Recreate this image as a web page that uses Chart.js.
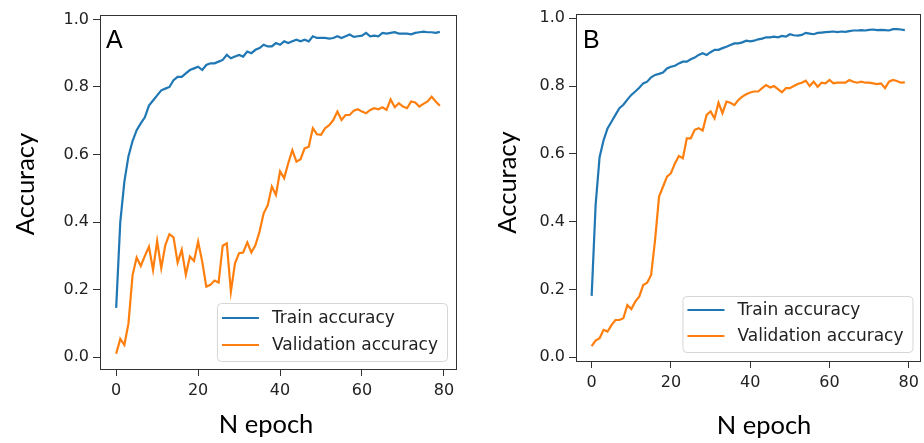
<!DOCTYPE html>
<html>
<head>
<meta charset="utf-8">
<script src="https://cdn.jsdelivr.net/npm/chart.js@4.4.1/dist/chart.umd.min.js"></script>
<style>
  html, body { margin: 0; padding: 0; background: #fff; }
  #wrap { position: relative; width: 924px; height: 443px; overflow: hidden; }
  canvas { position: absolute; top: 0; }
</style>
</head>
<body>
<div id="wrap">
  <canvas id="chartA" width="470" height="443" style="left:0;width:470px;height:443px"></canvas>
  <canvas id="chartB" width="454" height="443" style="left:470px;width:454px;height:443px"></canvas>
</div>
<script>
// epochs 0..79
const epochs = Array.from({ length: 80 }, (_, i) => i);
const xTicks = [0, 20, 40, 60, 80];
const yTicks = [0, 0.2, 0.4, 0.6, 0.8, 1.0];
const seriesNames = ['Train accuracy', 'Validation accuracy'];

const trainA = [
  0.146, 0.40, 0.52, 0.595, 0.64, 0.672, 0.692, 0.71, 0.745, 0.76,
  0.775, 0.79, 0.795, 0.80, 0.82, 0.83, 0.83, 0.84, 0.85, 0.855,
  0.86, 0.85, 0.865, 0.87, 0.87, 0.875, 0.88, 0.895, 0.885, 0.89,
  0.895, 0.89, 0.905, 0.90, 0.91, 0.915, 0.925, 0.92, 0.92, 0.93,
  0.925, 0.935, 0.93, 0.935, 0.94, 0.935, 0.94, 0.935, 0.95, 0.945,
  0.945, 0.945, 0.943, 0.945, 0.95, 0.945, 0.95, 0.955, 0.948, 0.95,
  0.952, 0.96, 0.95, 0.952, 0.95, 0.96, 0.958, 0.96, 0.962, 0.958,
  0.958, 0.958, 0.956, 0.96, 0.962, 0.964, 0.962, 0.962, 0.96, 0.963
];
const valA = [
  0.01, 0.054, 0.036, 0.10, 0.243, 0.295, 0.27, 0.30, 0.327, 0.258,
  0.344, 0.264, 0.332, 0.364, 0.355, 0.28, 0.318, 0.244, 0.298, 0.285,
  0.342, 0.283, 0.209, 0.214, 0.227, 0.221, 0.33, 0.337, 0.194, 0.278,
  0.308, 0.31, 0.34, 0.31, 0.332, 0.372, 0.426, 0.45, 0.505, 0.48,
  0.55, 0.53, 0.574, 0.613, 0.579, 0.586, 0.618, 0.623, 0.678, 0.66,
  0.658, 0.678, 0.687, 0.702, 0.727, 0.702, 0.717, 0.717, 0.73, 0.734,
  0.727, 0.722, 0.732, 0.737, 0.734, 0.74, 0.732, 0.763, 0.74, 0.752,
  0.742, 0.737, 0.757, 0.754, 0.742, 0.75, 0.757, 0.771, 0.757, 0.744
];
const trainB = [
  0.181, 0.45, 0.59, 0.64, 0.675, 0.695, 0.715, 0.735, 0.745, 0.76,
  0.774, 0.784, 0.795, 0.808, 0.813, 0.826, 0.833, 0.836, 0.84, 0.852,
  0.857, 0.86, 0.867, 0.872, 0.872, 0.879, 0.884, 0.892, 0.897, 0.892,
  0.90, 0.907, 0.907, 0.912, 0.916, 0.921, 0.926, 0.926, 0.929, 0.934,
  0.932, 0.934, 0.938, 0.94, 0.944, 0.944, 0.946, 0.944, 0.948, 0.946,
  0.953, 0.95, 0.949, 0.951, 0.957, 0.955, 0.953, 0.957, 0.958, 0.959,
  0.96, 0.961, 0.959, 0.961, 0.96, 0.962, 0.964, 0.964, 0.965, 0.964,
  0.966, 0.967, 0.965, 0.966, 0.965, 0.964, 0.968, 0.968, 0.967, 0.965
];
const valB = [
  0.033, 0.049, 0.056, 0.081, 0.076, 0.095, 0.11, 0.11, 0.115, 0.154,
  0.142, 0.164, 0.179, 0.213, 0.22, 0.243, 0.346, 0.474, 0.503, 0.533,
  0.543, 0.572, 0.594, 0.587, 0.646, 0.646, 0.671, 0.676, 0.669, 0.715,
  0.725, 0.705, 0.751, 0.72, 0.754, 0.751, 0.744, 0.759, 0.769, 0.776,
  0.781, 0.784, 0.784, 0.794, 0.803, 0.796, 0.80, 0.791, 0.782, 0.794,
  0.794, 0.80, 0.806, 0.81, 0.816, 0.80, 0.813, 0.798, 0.81, 0.808,
  0.818, 0.808, 0.81, 0.81, 0.81, 0.818, 0.813, 0.81, 0.813, 0.81,
  0.81, 0.808, 0.806, 0.808, 0.794, 0.813, 0.818, 0.815, 0.81, 0.811
];

const BLUE = '#1f77b4';
const ORANGE = '#ff7f0e';
const INK = '#222222';
const SPINE = '#333333';

// box round the plot, axis titles, panel letter, legend
const decorPlugin = {
  id: 'decor',
  afterDraw(chart, args, o) {
    const { ctx, chartArea: a } = chart;
    ctx.save();
    ctx.strokeStyle = SPINE;
    ctx.lineWidth = 1;
    ctx.strokeRect(Math.round(a.left) + 0.5, Math.round(a.top) + 0.5,
      Math.round(a.right - a.left), Math.round(a.bottom - a.top));

    // legend
    ctx.font = '17px "DejaVu Sans"';
    const names = chart.data.datasets.map(d => d.label);
    const tw = Math.max(...names.map(n => ctx.measureText(n).width));
    const w = 5 + 37 + 13 + tw + 9;
    const h = o.legendH;
    const bx = a.right - o.legendRight - w;
    const by = a.bottom - o.legendBottom - h;
    ctx.beginPath();
    ctx.roundRect(bx + 0.5, by + 0.5, w, h, 4);
    ctx.fillStyle = 'rgba(255,255,255,0.85)';
    ctx.fill();
    ctx.strokeStyle = '#d6d6d6';
    ctx.stroke();
    ctx.textBaseline = 'middle';
    ctx.textAlign = 'left';
    chart.data.datasets.forEach((d, i) => {
      const yy = by + o.legendRow0 + i * o.legendStep;
      ctx.strokeStyle = d.borderColor;
      ctx.lineWidth = 2;
      ctx.beginPath();
      ctx.moveTo(bx + 5, yy);
      ctx.lineTo(bx + 42, yy);
      ctx.stroke();
      ctx.fillStyle = INK;
      ctx.fillText(d.label, bx + 55, yy + 1);
    });

    // axis titles
    ctx.fillStyle = '#000';
    ctx.font = '25.5px Lato';
    ctx.textAlign = 'center';
    ctx.textBaseline = 'middle';
    ctx.fillText('N epoch', o.xTitle[0], o.xTitle[1]);
    ctx.save();
    ctx.translate(o.yTitle[0], o.yTitle[1]);
    ctx.rotate(-Math.PI / 2);
    ctx.fillText('Accuracy', 0, 0);
    ctx.restore();

    // panel letter
    ctx.font = '25px "Liberation Sans"';
    ctx.textAlign = 'left';
    ctx.textBaseline = 'alphabetic';
    ctx.fillText(o.letter, o.letterPos[0], o.letterPos[1]);
    ctx.restore();
  }
};

function makePanel(id, train, val, p) {
  const tickFont = { family: 'DejaVu Sans', size: 16 };
  return new Chart(document.getElementById(id), {
    type: 'line',
    data: {
      datasets: [
        { label: seriesNames[0], data: epochs.map((e, i) => ({ x: e, y: train[i] })),
          borderColor: BLUE, borderWidth: 2.2, pointRadius: 0, tension: 0, fill: false },
        { label: seriesNames[1], data: epochs.map((e, i) => ({ x: e, y: val[i] })),
          borderColor: ORANGE, borderWidth: 2.2, pointRadius: 0, tension: 0, fill: false }
      ]
    },
    options: {
      responsive: false,
      animation: false,
      events: [],
      layout: { padding: { left: 0, top: p.top, right: p.right, bottom: 0 } },
      plugins: {
        legend: { display: false },
        tooltip: { enabled: false },
        decor: p
      },
      scales: {
        x: {
          type: 'linear', min: -3.95, max: 82.95,
          afterBuildTicks: s => { s.ticks = xTicks.map(v => ({ value: v })); },
          afterFit: s => { s.height = p.xh; },
          ticks: { font: tickFont, color: INK, padding: 5, autoSkip: false, maxRotation: 0,
            callback: v => String(v) },
          grid: { drawOnChartArea: false, drawTicks: true, tickLength: 7, tickColor: SPINE, tickWidth: 1 },
          border: { display: true, color: SPINE, width: 1 }
        },
        y: {
          min: p.ymin, max: p.ymax,
          afterBuildTicks: s => { s.ticks = yTicks.map(v => ({ value: v })); },
          afterFit: s => { s.width = p.yw; },
          ticks: { font: tickFont, color: INK, padding: 4, autoSkip: false,
            callback: v => Number(v).toFixed(1) },
          grid: { drawOnChartArea: false, drawTicks: true, tickLength: 7, tickColor: SPINE, tickWidth: 1 },
          border: { display: true, color: SPINE, width: 1 }
        }
      }
    },
    plugins: [decorPlugin]
  });
}

makePanel('chartA', trainA, valA, {
  top: 15, right: 14, yw: 100, xh: 74, ymin: -0.035, ymax: 1.013,
  legendRight: 9, legendBottom: 8, legendH: 58, legendRow0: 15, legendStep: 27,
  xTitle: [266, 425], yTitle: [26, 184], letter: 'A', letterPos: [106, 48]
});
makePanel('chartB', trainB, valB, {
  top: 14, right: 0.5, yw: 106, xh: 82, ymin: -0.011, ymax: 1.0127,
  legendRight: 8, legendBottom: 9, legendH: 56, legendRow0: 14, legendStep: 26,
  xTitle: [294, 426], yTitle: [38, 182.5], letter: 'B', letterPos: [113, 48]
});
</script>
</body>
</html>
